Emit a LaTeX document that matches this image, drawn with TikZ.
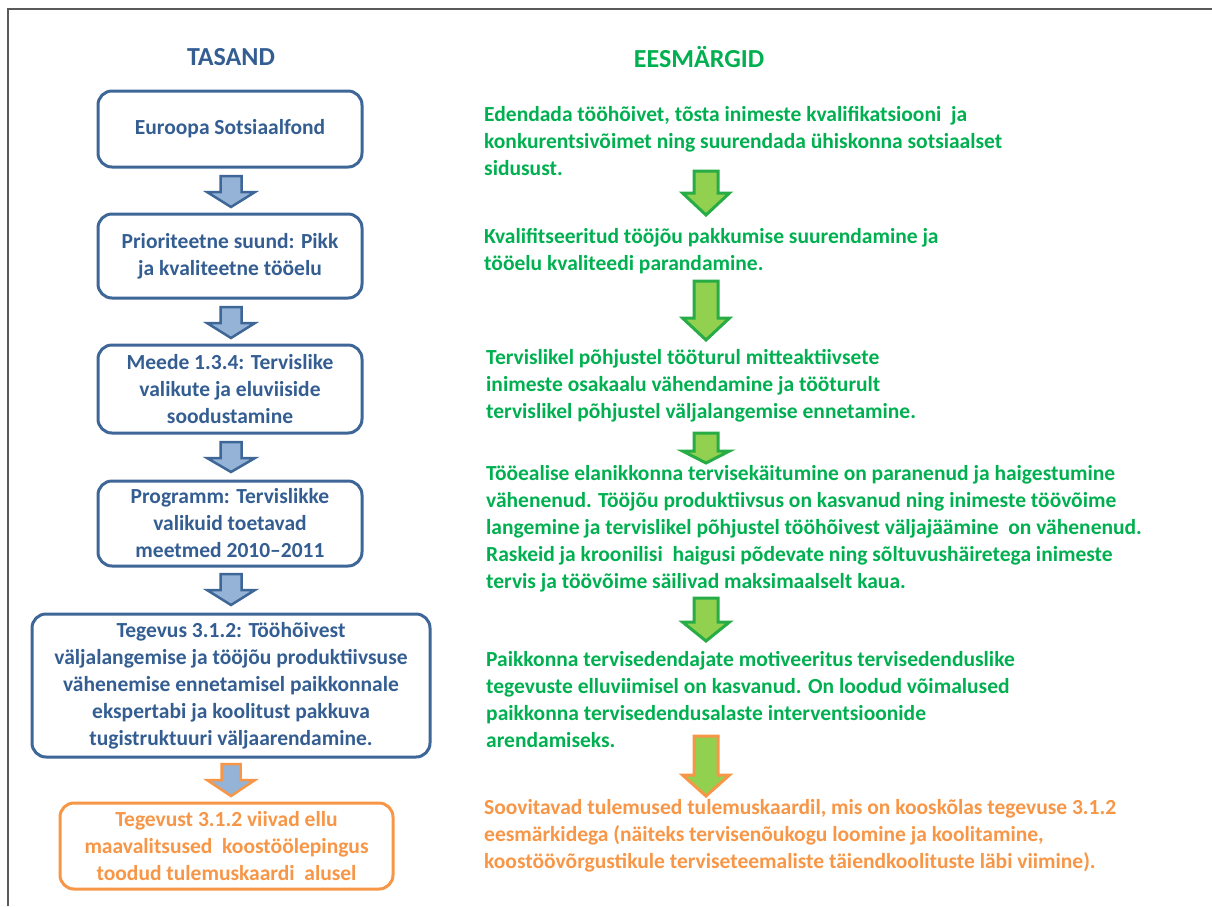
\documentclass[tikz,border=0pt]{standalone}
\usepackage{fontspec}
\setmainfont{Carlito}
\definecolor{txtblue}{RGB}{52,94,146}
\definecolor{boxblue}{RGB}{62,102,150}
\definecolor{arrowblue}{RGB}{149,179,215}
\definecolor{txtgreen}{RGB}{0,176,80}
\definecolor{arrowgreen}{RGB}{40,172,70}
\definecolor{fillgreen}{RGB}{146,208,80}
\definecolor{txtorange}{RGB}{247,150,70}
\definecolor{framegray}{RGB}{90,90,90}
\newcommand\blockarrow[5]{% style, cx, top, base, tip
  \draw[#1] (#2-\shafthalf,#3) -- (#2+\shafthalf,#3) -- (#2+\shafthalf,#4) -- (#2+\headhalf,#4)
    -- (#2,#5) -- (#2-\headhalf,#4) -- (#2-\shafthalf,#4) -- cycle;}
\begin{document}
\begin{tikzpicture}[x=1pt,y=-1pt,
  bodyfont/.style={font=\bfseries\fontsize{21.5}{27}\selectfont},
  lvl/.style={draw=boxblue, line width=3pt, rounded corners=14pt, fill=white,
    text=txtblue, bodyfont, align=center, inner sep=0pt},
  lvlorange/.style={lvl, draw=txtorange, text=txtorange},
  goal/.style={anchor=base west, inner sep=0pt, align=left, text=txtgreen, bodyfont},
  goalorange/.style={goal, text=txtorange},
  head/.style={inner sep=0pt, font=\bfseries\fontsize{26}{30}\selectfont},
  barrow/.style={draw=boxblue, fill=arrowblue, line width=2.5pt, line join=miter},
  borange/.style={draw=txtorange, fill=arrowblue, line width=2.5pt, line join=miter},
  garrow/.style={draw=arrowgreen, fill=fillgreen, line width=3pt, line join=miter},
  gorange/.style={draw=txtorange, fill=fillgreen, line width=3pt, line join=miter}]
\useasboundingbox (0,0) rectangle (1212,906);
\draw[framegray, line width=2pt] (8,906) -- (8,9) -- (1212,9);

% headers
\node[head, text=txtblue] (tasand) at (231,57) {TASAND};
\node[head, text=txtgreen] (eesm) at (699,57) {EESMÄRGID};

% left column
\node[lvl, minimum width=264pt, minimum height=76pt] (l1) at (230,129) {\raisebox{-2pt}{Euroopa Sotsiaalfond}};
\node[lvl, minimum width=264pt, minimum height=84pt] (l2) at (230,256) {Prioriteetne suund: Pikk\\ja kvaliteetne tööelu};
\node[lvl, minimum width=264pt, minimum height=88pt] (l3) at (230,389) {Meede 1.3.4: Tervislike\\valikute ja eluviiside\\soodustamine};
\node[lvl, minimum width=264pt, minimum height=85pt] (l4) at (230,523.5) {Programm: Tervislikke\\valikuid toetavad\\meetmed 2010–2011};
\node[lvl, minimum width=398pt, minimum height=143pt] (l5) at (231,685.5) {Tegevus 3.1.2: Tööhõivest\\väljalangemise ja tööjõu produktiivsuse\\vähenemise ennetamisel paikkonnale\\ekspertabi ja koolitust pakkuva\\tugistruktuuri väljaarendamine.};
\node[lvlorange, minimum width=333pt, minimum height=86pt] (l6) at (226.5,846) {Tegevust 3.1.2 viivad ellu\\maavalitsused \ koostöölepingus\\toodud tulemuskaardi \ alusel};

\def\shafthalf{10.5}\def\headhalf{24}
\blockarrow{barrow}{231}{176}{192}{207}
\blockarrow{barrow}{231}{307}{323}{338}
\blockarrow{barrow}{231}{442}{458}{472}
\blockarrow{barrow}{231}{574}{590}{605}
\def\shafthalf{9.5}
\blockarrow{borange}{231}{764}{780}{796}

% right column (anchor = baseline of the last line)
\node[goal] (g1) at (484,175) {Edendada tööhõivet, tõsta inimeste kvalifikatsiooni \ ja\\konkurentsivõimet ning suurendada ühiskonna sotsiaalset\\sidusust.};
\node[goal] (g2) at (484,270) {Kvalifitseeritud tööjõu pakkumise suurendamine ja\\tööelu kvaliteedi parandamine.};
\node[goal] (g3) at (486,418) {Tervislikel põhjustel tööturul mitteaktiivsete\\inimeste osakaalu vähendamine ja tööturult\\tervislikel põhjustel väljalangemise ennetamine.};
\node[goal] (g4) at (486,588) {Tööealise elanikkonna tervisekäitumine on paranenud ja haigestumine\\vähenenud. Tööjõu produktiivsus on kasvanud ning inimeste töövõime\\langemine ja tervislikel põhjustel tööhõivest väljajäämine \ on vähenenud.\\Raskeid ja kroonilisi \ haigusi põdevate ning sõltuvushäiretega inimeste\\tervis ja töövõime säilivad maksimaalselt kaua.};
\node[goal] (g5) at (486,747) {Paikkonna tervisedendajate motiveeritus tervisedenduslike\\tegevuste elluviimisel on kasvanud. On loodud võimalused\\paikkonna tervisedendusalaste interventsioonide\\arendamiseks.};
\node[goalorange] (g6) at (484,868) {Soovitavad tulemused tulemuskaardil, mis on kooskõlas tegevuse 3.1.2\\eesmärkidega (näiteks tervisenõukogu loomine ja koolitamine,\\koostöövõrgustikule terviseteemaliste täiendkoolituste läbi viimine).};

\def\shafthalf{12}\def\headhalf{23.5}
\blockarrow{garrow}{706}{171}{193}{215}
\blockarrow{garrow}{706}{281}{318}{340}
\blockarrow{garrow}{706}{433}{451}{463}
\blockarrow{garrow}{706}{598}{622}{641}
\blockarrow{gorange}{706}{736}{775}{796}
\end{tikzpicture}
\end{document}
